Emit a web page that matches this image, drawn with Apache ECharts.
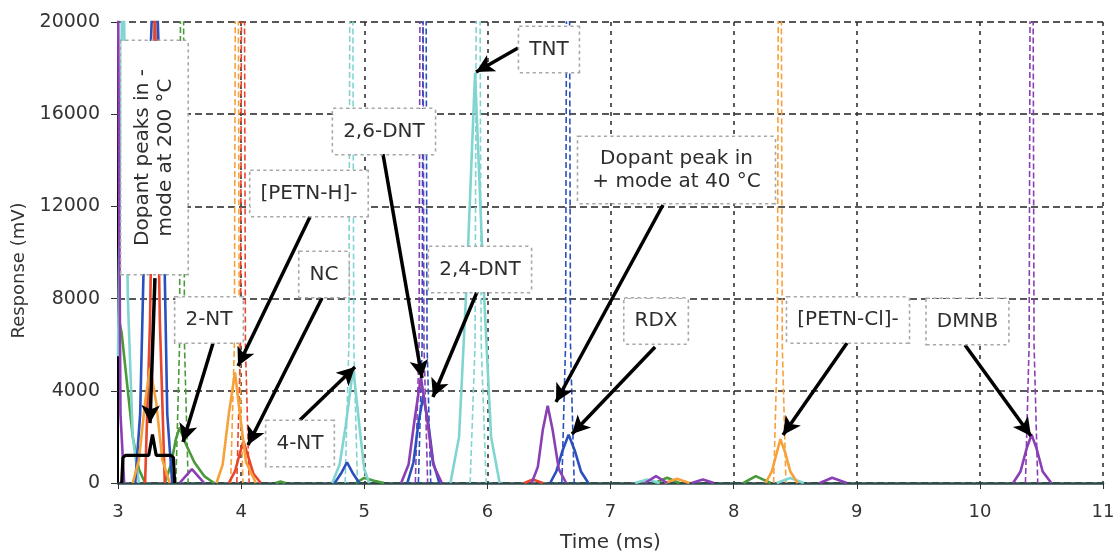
<!DOCTYPE html>
<html><head><meta charset="utf-8">
<script src="https://cdn.jsdelivr.net/npm/echarts@6/dist/echarts.min.js"></script>
<style>html,body{margin:0;padding:0;background:#fff}#c{width:1118px;height:551px}</style>
</head><body><div id="c"></div>
<script>
// ---- axis ticks ----
const xTicks = [3, 4, 5, 6, 7, 8, 9, 10, 11];
const yTicks = [0, 4000, 8000, 12000, 16000, 20000];

// ---- solid peaks (time ms, response mV) ----
const purplePeaks = [
  [[3.0,22000],[3.01,12000],[3.02,3000],[3.05,0]],
  [[3.50,0],[3.55,300],[3.60,600],[3.65,300],[3.70,0]],
  [[5.30,0],[5.36,800],[5.41,2800],[5.46,4600],[5.51,2800],[5.56,800],[5.63,0]],
  [[6.36,0],[6.41,700],[6.45,2300],[6.49,3350],[6.53,2300],[6.58,600],[6.64,0]],
  [[7.28,0],[7.37,300],[7.46,0]],
  [[7.66,0],[7.75,150],[7.84,0]],
  [[8.70,0],[8.80,230],[8.92,0]],
  [[10.27,0],[10.33,500],[10.38,1500],[10.42,2100],[10.46,1500],[10.51,500],[10.58,0]]
];
const cyanPeaks = [
  [[3.0,5500],[3.04,24000],[3.08,8000],[3.12,2000],[3.17,0]],
  [[4.74,0],[4.80,800],[4.85,2500],[4.91,5000],[4.96,2500],[5.00,600],[5.04,0]],
  [[5.70,0],[5.77,2000],[5.83,8500],[5.90,17800],[5.97,8500],[6.03,2000],[6.10,0]],
  [[7.20,0],[7.30,150],[7.40,0]],
  [[8.35,0],[8.46,220],[8.57,0]]
];
const bluePeaks = [
  [[3.14,0],[3.18,3000],[3.22,12000],[3.30,24000],[3.37,12000],[3.40,3000],[3.44,0]],
  [[4.76,0],[4.81,400],[4.86,900],[4.91,400],[4.96,0]],
  [[5.35,0],[5.40,900],[5.44,2600],[5.48,3800],[5.52,2600],[5.56,900],[5.61,0]],
  [[6.51,0],[6.56,500],[6.61,1400],[6.66,2100],[6.71,1400],[6.76,500],[6.82,0]]
];
const orangePeaks = [
  [[3.12,0],[3.17,1000],[3.22,3500],[3.26,5000],[3.31,3500],[3.36,1000],[3.42,0]],
  [[3.80,0],[3.85,800],[3.90,3000],[3.95,4800],[3.99,3000],[4.04,900],[4.12,0]],
  [[7.44,0],[7.54,180],[7.64,0]],
  [[8.26,0],[8.31,500],[8.35,1300],[8.38,1900],[8.42,1300],[8.46,500],[8.52,0]]
];
const redPeaks = [
  [[3.22,0],[3.26,7000],[3.30,21000],[3.34,7000],[3.38,0]],
  [[3.90,0],[3.95,500],[3.99,1300],[4.02,1800],[4.06,1100],[4.10,400],[4.16,0]],
  [[6.30,0],[6.37,150],[6.45,0]]
];
const greenPeaks = [
  [[3.0,7300],[3.03,6500],[3.07,4500],[3.12,2000],[3.17,600],[3.22,0]],
  [[3.38,0],[3.43,800],[3.47,1900],[3.50,2400],[3.55,1700],[3.62,900],[3.70,300],[3.78,0]],
  [[4.28,0],[4.32,60],[4.36,0]],
  [[4.93,0],[5.00,220],[5.08,100],[5.16,0]],
  [[7.36,0],[7.46,230],[7.56,0]],
  [[8.08,0],[8.18,300],[8.30,0]]
];

// ---- dashed (other-mode) narrow peaks ----
const greenDashed = [[[3.47,0],[3.50,6000],[3.52,45000],[3.54,6000],[3.57,0]]];
const orangeDashed = [
  [[3.915,0],[3.945,6000],[3.965,45000],[3.985,6000],[4.015,0]],
  [[8.325,0],[8.355,6000],[8.375,45000],[8.395,6000],[8.425,0]]
];
const redDashed = [[[3.965,0],[3.995,6000],[4.015,45000],[4.035,6000],[4.065,0]]];
const cyanDashed = [
  [[4.845,0],[4.875,6000],[4.895,45000],[4.915,6000],[4.945,0]],
  [[5.86,0],[5.90,6000],[5.925,45000],[5.95,6000],[5.99,0]]
];
const purpleDashed = [
  [[5.415,0],[5.445,6000],[5.465,45000],[5.485,6000],[5.515,0]],
  [[10.37,0],[10.40,6000],[10.42,45000],[10.44,6000],[10.47,0]]
];
const blueDashed = [
  [[5.44,0],[5.47,6000],[5.49,45000],[5.51,6000],[5.54,0]],
  [[6.605,0],[6.635,6000],[6.655,45000],[6.675,6000],[6.705,0]]
];

// ---- bracket under dopant label ----
const bracket = [[3.03,0],[3.04,1100],[3.06,1200],[3.25,1200],[3.28,2100],[3.31,1200],[3.43,1200],[3.45,1100],[3.46,0]];

// ---- annotation labels: text, x, y ----
const labelTexts = ['Dopant peaks in -\nmode at 200 °C','2-NT','[PETN-H]-','NC','4-NT','2,6-DNT','2,4-DNT','TNT','Dopant peak in\n+ mode at 40 °C','RDX','[PETN-Cl]-','DMNB'];
const labelX = [3.296, 3.739, 4.551, 4.673, 4.478, 5.160, 5.940, 6.500, 7.536, 7.370, 8.929, 9.899];
const labelY = [14121, 7072, 12560, 9046, 1714, 15249, 9262, 18807, 13579, 7028, 7072, 7007];

// ---- arrows: from (x,y) to tip (x,y) ----
const arrowFrom = [[3.30,8890],[3.772,6074],[4.559,11540],[4.657,8026],[4.478,2733],[5.152,14273],[5.916,8286],[6.249,18872],[7.426,12061],[7.362,5900],[8.921,6074],[9.879,5987]];
const arrowTo = [[3.26,2600],[3.528,1779],[3.975,5076],[4.056,1649],[4.925,5033],[5.469,4555],[5.558,3731],[5.908,17831],[6.557,3514],[6.687,2126],[8.401,2082],[10.415,2039]];

const COLORS = {purple:'#8a3fb5', cyan:'#80d5d0', blue:'#2a50bd', orange:'#f7a13a', red:'#e8452c', green:'#4a9a3a'};

const series = [];
function addPeaks(peaks, color, dashed) {
  peaks.forEach(p => series.push({
    type:'line', data:p, showSymbol:false, silent:true, z: dashed ? 2 : 3,
    lineStyle:{color:color, width: dashed ? 1.6 : 2.6, type: dashed ? [6,3] : 'solid'}
  }));
}
addPeaks(greenDashed, COLORS.green, true);
addPeaks(orangeDashed, COLORS.orange, true);
addPeaks(redDashed, COLORS.red, true);
addPeaks(cyanDashed, COLORS.cyan, true);
addPeaks(purpleDashed, COLORS.purple, true);
addPeaks(blueDashed, COLORS.blue, true);
addPeaks(greenPeaks, COLORS.green, false);
addPeaks(cyanPeaks, COLORS.cyan, false);
addPeaks(redPeaks, COLORS.red, false);
addPeaks(bluePeaks, COLORS.blue, false);
addPeaks(orangePeaks, COLORS.orange, false);
addPeaks(purplePeaks, COLORS.purple, false);

series.push({type:'line', data:bracket, showSymbol:false, silent:true, z:4,
  lineStyle:{color:'#000', width:3.2}});

series.push({type:'line', data:[], zlevel:1, z:15, silent:true,
  markLine:{silent:true, animation:false, symbol:['none','arrow'], symbolSize:[14,18],
    lineStyle:{color:'#000', width:3.5, type:'solid'}, label:{show:false},
    emphasis:{disabled:true},
    data: arrowFrom.map((f,i)=>[{coord:f},{coord:arrowTo[i]}])}});

series.push({type:'scatter', zlevel:1, z:20, silent:true, symbolSize:1, itemStyle:{color:'#fff', opacity:1},
  data: labelTexts.map((t,i)=>({value:[labelX[i], labelY[i]],
    label:{show:true, position:'inside', formatter:t, rotate: i===0 ? 90 : 0, opacity:1,
      backgroundColor:'#ffffff', borderColor:'#a8a8a8', borderType:'dotted', borderWidth:1.6,
      padding: i===0 ? [10,28] : (i===8 ? [10,14] : [11,10]),
      fontSize:20, lineHeight:23, color:'#2e2e2e', fontFamily:'DejaVu Sans', align:'center', verticalAlign:'middle'}}))});

const chart = echarts.init(document.getElementById('c'));
chart.setOption({
  animation:false,
  grid:{left:118, right:15, top:22, bottom:68, containLabel:false, outerBoundsMode:'none'},
  xAxis:{type:'value', min:xTicks[0], max:xTicks[xTicks.length-1], interval:1,
    name:'Time (ms)', nameLocation:'middle', nameGap:50,
    nameTextStyle:{fontSize:20, color:'#333', fontFamily:'DejaVu Sans'},
    axisLine:{show:true, onZero:false, lineStyle:{color:'#2e4a4a', width:2.5}},
    axisTick:{show:true, length:6, lineStyle:{color:'#333'}},
    axisLabel:{fontSize:18, color:'#333', margin:20, fontFamily:'DejaVu Sans', formatter:v=>String(v)},
    splitLine:{show:true, lineStyle:{color:'#333', width:1.6, type:[4,5]}}},
  yAxis:{type:'value', min:yTicks[0], max:yTicks[yTicks.length-1], interval:4000,
    name:'Response (mV)', nameLocation:'middle', nameGap:75,
    nameTextStyle:{fontSize:18, color:'#333', fontFamily:'DejaVu Sans', padding:[0,36,0,0]},
    axisLine:{show:true, lineStyle:{color:'#000', width:2}},
    axisTick:{show:true, length:7, lineStyle:{color:'#333'}},
    axisLabel:{fontSize:19, color:'#333', margin:18, fontFamily:'DejaVu Sans', formatter:v=>String(v)},
    splitLine:{show:true, lineStyle:{color:'#222', width:1.6, type:[7,4]}}},
  series: series
});
</script></body></html>
